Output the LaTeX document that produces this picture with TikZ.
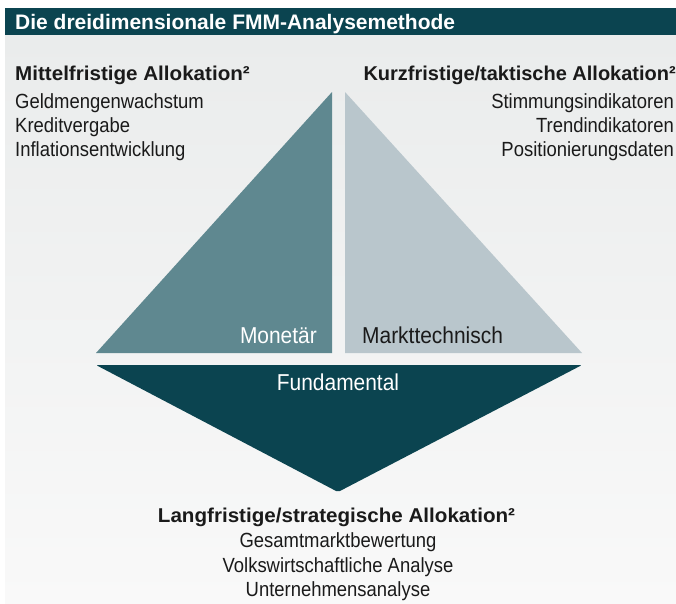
\documentclass[tikz,border=0pt]{standalone}
\usepackage{fontspec}
\setmainfont{Liberation Sans}
\newfontfamily\regfont[FakeStretch=0.9]{Liberation Sans}
\newfontfamily\labfont[FakeStretch=0.91]{Liberation Sans}
\newfontfamily\headfont[FakeStretch=1.03]{Liberation Sans}
\newfontfamily\rheadfont[FakeStretch=1.0]{Liberation Sans}
\definecolor{teal}{HTML}{0B4450}
\definecolor{monet}{HTML}{5F8890}
\definecolor{markt}{HTML}{B9C6CC}
\definecolor{ink}{HTML}{1A1A1A}
\definecolor{bgtop}{HTML}{EAECEC}
\definecolor{bgbot}{HTML}{F9F9F9}
\tikzset{
  txt/.style={inner sep=0pt, text=ink, font=\regfont\fontsize{20.5}{24}\selectfont},
  head/.style={inner sep=0pt, text=ink, font=\headfont\bfseries\fontsize{20}{24}\selectfont},
  rhead/.style={inner sep=0pt, text=ink, font=\rheadfont\bfseries\fontsize{20}{24}\selectfont},
  lab/.style={inner sep=0pt, font=\labfont\fontsize{23}{26}\selectfont},
}
\begin{document}
\begin{tikzpicture}[x=1pt,y=-1pt]
\useasboundingbox (0,0) rectangle (676,603);
\fill[white] (0,0) rectangle (676,603);
\shade[top color=bgtop, bottom color=bgbot] (5,35) rectangle (676,603);
% header bar
\fill[teal] (5,8) rectangle (676,35);
\node[anchor=base west, inner sep=0pt, text=white, font=\bfseries\fontsize{21}{24}\selectfont] (title) at (15,29.5) {Die dreidimensionale FMM-Analysemethode};
% shapes
\fill[monet] (96,353) -- (332,92) -- (332,353) -- cycle;
\fill[markt] (345,92) -- (345,353) -- (582,353) -- cycle;
\fill[teal, rounded corners=2pt] (96,365) -- (582,365) -- (338,492) -- cycle;
% labels
\node[lab, anchor=base east, text=white] (mon) at (317,343) {Monetär};
\node[lab, anchor=base west, text=ink] (mkt) at (362,343) {Markttechnisch};
\node[lab, anchor=base, text=white] (fund) at (338,390) {Fundamental};
% left block
\node[head, anchor=base west] (lh) at (15,80.5) {Mittelfristige Allokation²};
\node[txt, anchor=base west] (l1) at (15,108.3) {Geldmengenwachstum};
\node[txt, anchor=base west] (l2) at (15,132.6) {Kreditvergabe};
\node[txt, anchor=base west] (l3) at (15,156.8) {Inflationsentwicklung};
% right block
\node[rhead, anchor=base east] (rh) at (676,80.5) {Kurzfristige/taktische Allokation²};
\node[txt, anchor=base east] (r1) at (674,108.3) {Stimmungsindikatoren};
\node[txt, anchor=base east] (r2) at (674,132.6) {Trendindikatoren};
\node[txt, anchor=base east] (r3) at (674,156.8) {Positionierungsdaten};
% bottom block
\node[head, anchor=base] (bh) at (336.5,522) {Langfristige/strategische Allokation²};
\node[txt, anchor=base] (b1) at (338,547.5) {Gesamtmarktbewertung};
\node[txt, anchor=base] (b2) at (338,572.5) {Volkswirtschaftliche Analyse};
\node[txt, anchor=base] (b3) at (338,596.5) {Unternehmensanalyse};
\end{tikzpicture}
\end{document}
